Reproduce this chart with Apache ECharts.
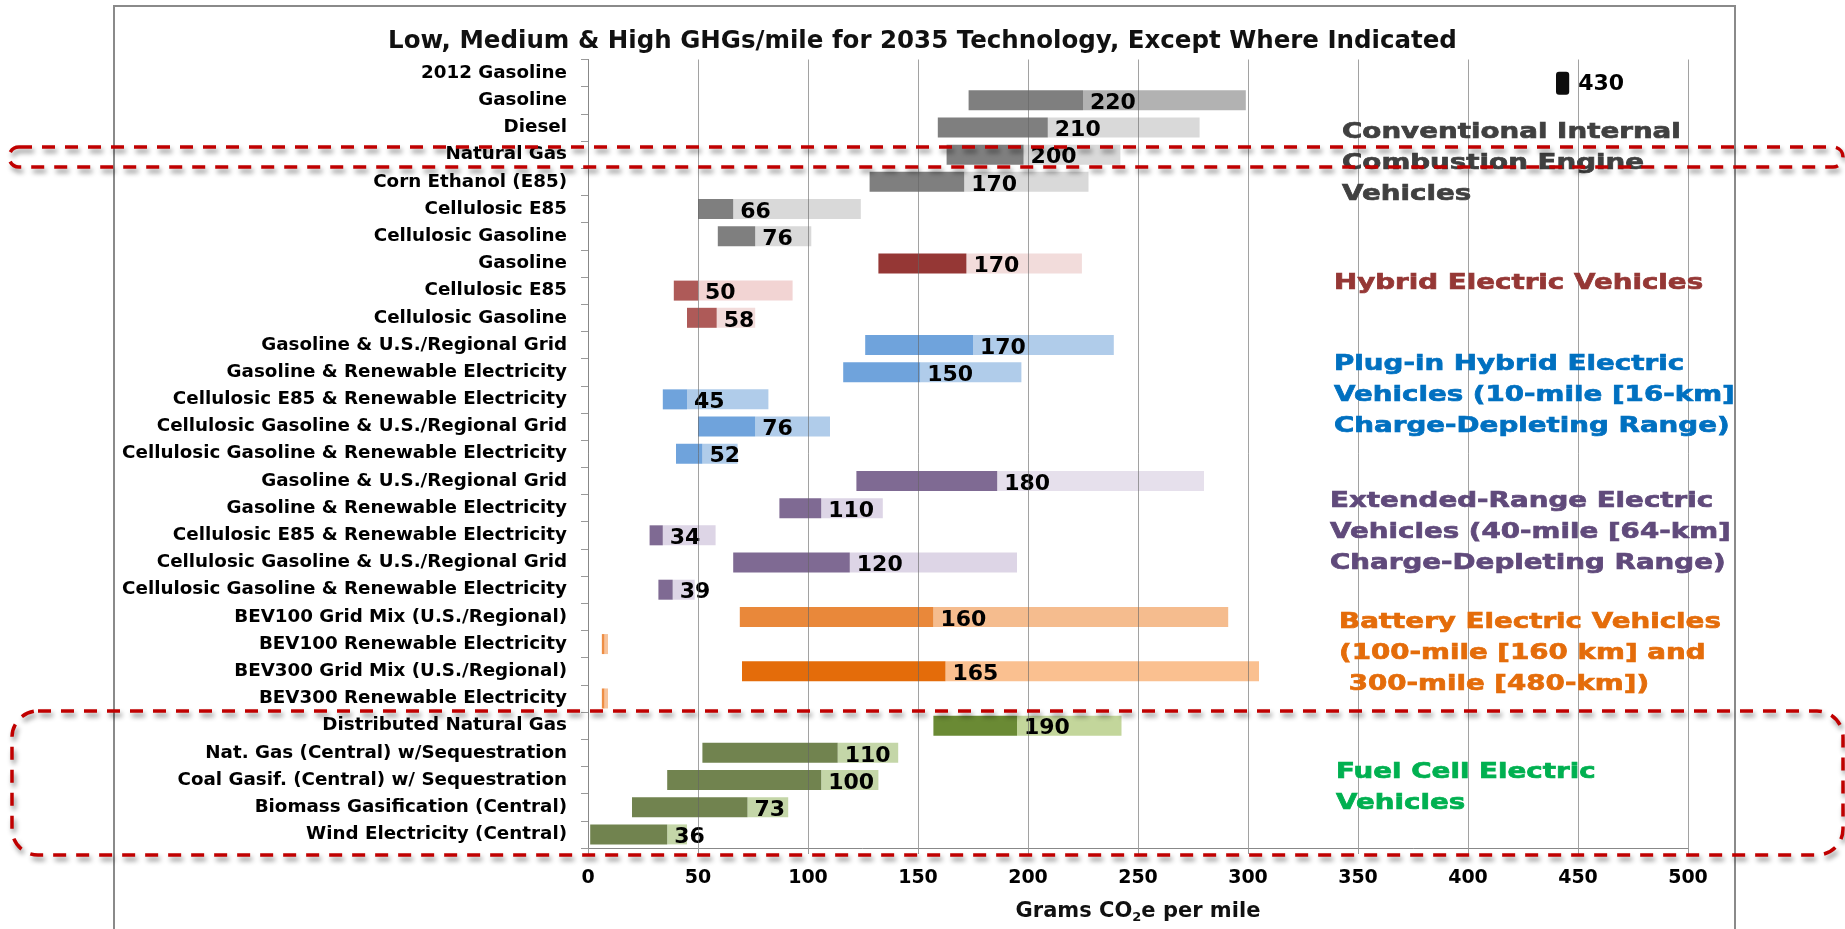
<!DOCTYPE html>
<html><head><meta charset="utf-8">
<script src="https://cdn.jsdelivr.net/npm/echarts@6/dist/echarts.min.js"></script>
<style>html,body{margin:0;padding:0;background:#fff}#c{width:1845px;height:929px}</style>
</head><body><div id="c"></div>
<script>
// ---------------- DATA ----------------
const chartTitle = 'Low, Medium & High GHGs/mile for 2035 Technology, Except Where Indicated';
const categories = [
  '2012 Gasoline', 'Gasoline', 'Diesel', 'Natural Gas', 'Corn Ethanol (E85)', 'Cellulosic E85', 'Cellulosic Gasoline',
  'Gasoline', 'Cellulosic E85', 'Cellulosic Gasoline',
  'Gasoline & U.S./Regional Grid', 'Gasoline & Renewable Electricity', 'Cellulosic E85 & Renewable Electricity',
  'Cellulosic Gasoline & U.S./Regional Grid', 'Cellulosic Gasoline & Renewable Electricity',
  'Gasoline & U.S./Regional Grid', 'Gasoline & Renewable Electricity', 'Cellulosic E85 & Renewable Electricity',
  'Cellulosic Gasoline & U.S./Regional Grid', 'Cellulosic Gasoline & Renewable Electricity',
  'BEV100 Grid Mix (U.S./Regional)', 'BEV100 Renewable Electricity', 'BEV300 Grid Mix (U.S./Regional)', 'BEV300 Renewable Electricity',
  'Distributed Natural Gas', 'Nat. Gas (Central) w/Sequestration', 'Coal Gasif. (Central) w/ Sequestration',
  'Biomass Gasification (Central)', 'Wind Electricity (Central)'
];
const lowValues  = [440, 173, 159, 163, 128, 50, 59, 132, 39, 45, 126, 116, 34, 50, 40, 122, 87, 28, 66, 32, 69, 6.3, 70, 6.3, 157, 52, 36, 20, 1];
const midValues  = [446, 225, 209, 198, 171, 66, 76, 172, 50, 58.5, 175, 151, 45, 76, 52, 186, 106, 34, 119, 38.5, 157, 7.5, 162.5, 7.5, 195, 113.5, 106, 72.5, 36];
const highValues = [446, 299, 278, 242, 227.5, 124, 101.5, 224.5, 93, 76, 239, 197, 82, 110, 68, 280, 134, 58, 195, 48.5, 291, 9.1, 305, 9.1, 242.5, 141, 132, 91, 45];
const valueLabels = ['430', '220', '210', '200', '170', '66', '76', '170', '50', '58', '170', '150', '45', '76', '52', '180', '110', '34', '120', '39', '160', '', '165', '', '190', '110', '100', '73', '36'];
const xMin = 0, xMax = 500, xStep = 50;
const xAxisTitle = ['Grams CO', '2', 'e per mile'];
const groupNotes = [
  ['Conventional Internal', 'Combustion Engine', 'Vehicles'],
  ['Hybrid Electric Vehicles'],
  ['Plug-in Hybrid Electric', 'Vehicles (10-mile [16-km]', 'Charge-Depleting Range)'],
  ['Extended-Range Electric', 'Vehicles (40-mile [64-km]', 'Charge-Depleting Range)'],
  ['Battery Electric Vehicles', '(100-mile [160 km] and', ' 300-mile [480-km])'],
  ['Fuel Cell Electric', 'Vehicles']
];
// row 0 (2012 reference vehicle) is drawn on its own, slightly offset overlay
const referenceRow = 0;

// ---------------- STYLE ----------------
const darkColors = ['#0D0D0D','#7F7F7F','#7F7F7F','#7F7F7F','#7F7F7F','#7F7F7F','#7F7F7F',
  '#953735','#AE5A58','#AE5A58',
  '#6FA3DC','#6FA3DC','#6FA3DC','#6FA3DC','#6FA3DC',
  '#7F6A93','#7F6A93','#7F6A93','#7F6A93','#7F6A93',
  '#E9883A','#EE8E45','#E46C0A','#EE8E45',
  '#6A8A34','#71834F','#71834F','#71834F','#71834F'];
const lightColors = ['#0D0D0D','#B2B2B2','#D9D9D9','#D9D9D9','#D9D9D9','#D9D9D9','#D9D9D9',
  '#F2DCDB','#F2D4D3','#F2DCDB',
  '#B0CCEA','#B0CCEA','#B0CCEA','#B0CCEA','#B0CCEA',
  '#E6E0EC','#DDD5E6','#DDD5E6','#DDD5E6','#DDD5E6',
  '#F5BC8E','#F7C39B','#FAC090','#F7C39B',
  '#C3D69B','#C4D6A8','#C4D6A8','#C4D6A8','#C4D6A8'];
const noteColors = ['#404040', '#953735', '#0070C0', '#604A7B', '#E46C0A', '#00B050'];
const notePos = [[1342, 163.7], [1334, 283.7], [1334, 395.3], [1330, 532.6], [1339, 652.9], [1336, 787.5]];
const FONT = '"DejaVu Sans", "Noto Sans", sans-serif';

const chart = echarts.init(document.getElementById('c'), null, {renderer: 'canvas'});

const barW = 20;
const noteGraphics = groupNotes.map((lines, i) => ({
  type: 'text', x: notePos[i][0], y: notePos[i][1], scaleX: 1.26, z: 50,
  style: {
    text: lines.join('\n'), fill: noteColors[i],
    stroke: noteColors[i], lineWidth: 0.7,
    font: 'bold 22px ' + FONT, lineHeight: 31,
    align: 'left', verticalAlign: 'middle'
  }
}));

const boxStyle = {
  fill: 'none', stroke: '#C00000', lineWidth: 3.5, lineDash: [13, 10],
  shadowBlur: 5, shadowColor: 'rgba(0,0,0,0.45)', shadowOffsetX: 2, shadowOffsetY: 4
};

const isMain = i => i !== referenceRow;
const valueLabel = {
  show: true, position: 'right', distance: 7, offset: [0, 3],
  fontFamily: FONT, fontWeight: 'bold', fontSize: 22, color: '#000',
  formatter: p => valueLabels[p.dataIndex]
};

chart.setOption({
  backgroundColor: '#fff',
  animation: false,
  title: {
    text: chartTitle, left: 'center', top: 24,
    textStyle: {fontFamily: FONT, fontWeight: 'bold', fontSize: 24.5, color: '#111'}
  },
  grid: [
    {left: 588, right: 157, top: 59.5, bottom: 75.5, containLabel: false},
    {left: 588, right: 157, top: 69.5, bottom: 65.5, containLabel: false}
  ],
  xAxis: [{
    type: 'value', min: xMin, max: xMax, interval: xStep, z: 3,
    axisLine: {show: true, lineStyle: {color: '#888', width: 1}},
    axisTick: {show: true, length: 6, lineStyle: {color: '#999'}},
    splitLine: {show: true, lineStyle: {color: 'rgba(100,100,100,0.6)', width: 1}},
    axisLabel: {fontFamily: FONT, fontWeight: 'bold', fontSize: 19, color: '#000', margin: 21},
    name: '{a|' + xAxisTitle[0] + '}{b|' + xAxisTitle[1] + '}{a|' + xAxisTitle[2] + '}',
    nameLocation: 'middle', nameGap: 51,
    nameTextStyle: {
      rich: {
        a: {fontFamily: FONT, fontWeight: 'bold', fontSize: 21, color: '#111'},
        b: {fontFamily: FONT, fontWeight: 'bold', fontSize: 13, color: '#111', padding: [12, 0, 0, 0]}
      }
    }
  }, {
    gridIndex: 1, type: 'value', min: xMin, max: xMax, interval: xStep, show: false,
    splitLine: {show: false}
  }],
  yAxis: [{
    type: 'category', data: categories, inverse: true, z: 3,
    axisLine: {show: true, lineStyle: {color: '#888', width: 1}},
    axisTick: {show: true, length: 7, lineStyle: {color: '#999'}},
    splitLine: {show: false},
    axisLabel: {fontFamily: FONT, fontWeight: 'bold', fontSize: 18.3, color: '#000', margin: 21}
  }, {
    gridIndex: 1, type: 'category', data: categories, inverse: true, show: false
  }],
  series: [
    {
      name: 'base', type: 'bar', stack: 'g', barWidth: barW, silent: true,
      itemStyle: {color: 'rgba(0,0,0,0)'},
      data: lowValues.map((v, i) => isMain(i) ? v : '-')
    },
    {
      name: 'low-mid', type: 'bar', stack: 'g', barWidth: barW, z: 2,
      data: midValues.map((m, i) => isMain(i) ? {
        value: +(m - lowValues[i]).toFixed(2),
        itemStyle: {color: darkColors[i]}
      } : '-'),
      label: valueLabel
    },
    {
      name: 'mid-high', type: 'bar', stack: 'g', barWidth: barW, z: 1,
      data: highValues.map((h, i) => isMain(i) ? {
        value: +(h - midValues[i]).toFixed(2),
        itemStyle: {color: lightColors[i]}
      } : '-')
    },
    {
      name: 'ref-base', type: 'bar', stack: 'r', xAxisIndex: 1, yAxisIndex: 1, barWidth: 23, silent: true,
      itemStyle: {color: 'rgba(0,0,0,0)'},
      data: lowValues.map((v, i) => isMain(i) ? '-' : v)
    },
    {
      name: 'ref', type: 'bar', stack: 'r', xAxisIndex: 1, yAxisIndex: 1, barWidth: 23, z: 2,
      data: midValues.map((m, i) => isMain(i) ? '-' : {
        value: +(m - lowValues[i]).toFixed(2),
        itemStyle: {color: darkColors[i], borderRadius: 3}
      }),
      label: Object.assign({}, valueLabel, {distance: 9, offset: [0, 1]})
    }
  ],
  graphic: [
    {type: 'rect', z: 0, silent: true, shape: {x: 114, y: 6, width: 1621, height: 960},
     style: {fill: 'none', stroke: '#8a8a8a', lineWidth: 2}},
    {type: 'rect', z: 100, silent: true, shape: {x: 9, y: 147, width: 1834, height: 20, r: 10}, style: boxStyle},
    {type: 'rect', z: 100, silent: true, shape: {x: 12, y: 711, width: 1831, height: 144, r: 26}, style: boxStyle}
  ].concat(noteGraphics)
});
</script></body></html>
